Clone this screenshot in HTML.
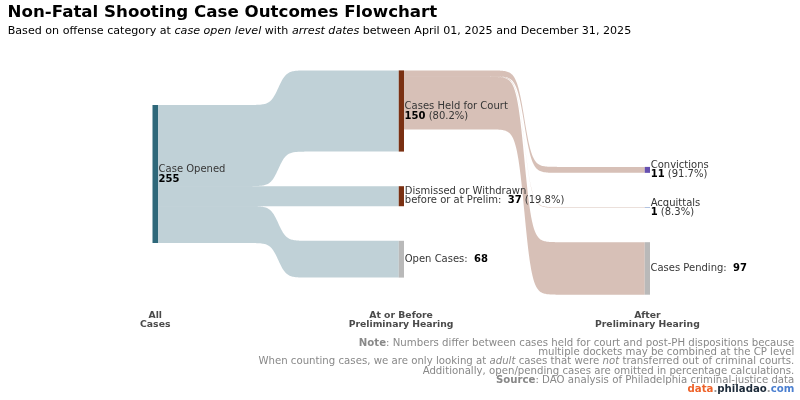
<!DOCTYPE html>
<html lang="en">
<head>
<meta charset="utf-8">
<title>Non-Fatal Shooting Case Outcomes Flowchart</title>
<style>
html,body{margin:0;padding:0;background:#fff;}
body{width:800px;height:400px;overflow:hidden;}
svg{display:block;font-family:"DejaVu Sans","Liberation Sans",sans-serif;}
.title{font-size:16.67px;font-weight:bold;fill:#000;}
.sub{font-size:11.11px;fill:#000;}
.lbl{font-size:10.0px;fill:#363636;white-space:pre;}
.col{font-size:9.28px;font-weight:bold;fill:#4a4a4a;text-anchor:middle;}
.note{font-size:10.18px;fill:#888;text-anchor:end;}
.b{font-weight:bold;}
.i{font-style:italic;}
.lbl .b{fill:#000;}
</style>
</head>
<body>
<svg width="800" height="400" viewBox="0 0 800 400">
<rect width="800" height="400" fill="#fff"/>
<path d="M158.00,105.00 L233.38,105.00 L234.12,105.00 L234.88,105.00 L235.62,105.00 L236.38,105.00 L237.12,105.00 L237.88,105.00 L238.62,105.00 L239.38,105.00 L240.12,105.00 L240.88,105.00 L241.62,105.00 L242.38,105.00 L243.12,105.00 L243.88,104.99 L244.62,104.99 L245.38,104.99 L246.12,104.99 L246.88,104.99 L247.62,104.99 L248.38,104.98 L249.12,104.98 L249.88,104.97 L250.62,104.97 L251.38,104.96 L252.12,104.95 L252.88,104.94 L253.62,104.93 L254.38,104.92 L255.12,104.90 L255.88,104.88 L256.62,104.86 L257.38,104.83 L258.12,104.79 L258.88,104.75 L259.62,104.70 L260.38,104.63 L261.12,104.56 L261.88,104.47 L262.62,104.36 L263.38,104.23 L264.12,104.07 L264.88,103.89 L265.62,103.66 L266.38,103.40 L267.12,103.08 L267.88,102.71 L268.62,102.27 L269.38,101.75 L270.12,101.15 L270.88,100.46 L271.62,99.66 L272.38,98.75 L273.12,97.72 L273.88,96.58 L274.62,95.32 L275.38,93.94 L276.12,92.48 L276.88,90.93 L277.62,89.33 L278.38,87.70 L279.12,86.07 L279.88,84.47 L280.62,82.92 L281.38,81.46 L282.12,80.08 L282.88,78.82 L283.62,77.68 L284.38,76.65 L285.12,75.74 L285.88,74.94 L286.62,74.25 L287.38,73.65 L288.12,73.13 L288.88,72.69 L289.62,72.32 L290.38,72.00 L291.12,71.74 L291.88,71.51 L292.62,71.33 L293.38,71.17 L294.12,71.04 L294.88,70.93 L295.62,70.84 L296.38,70.77 L297.12,70.70 L297.88,70.65 L298.62,70.61 L299.38,70.57 L300.12,70.54 L300.88,70.52 L301.62,70.50 L302.38,70.48 L303.12,70.47 L303.88,70.46 L304.62,70.45 L305.38,70.44 L306.12,70.43 L306.88,70.43 L307.62,70.42 L308.38,70.42 L309.12,70.41 L309.88,70.41 L310.62,70.41 L311.38,70.41 L312.12,70.41 L312.88,70.41 L313.62,70.40 L314.38,70.40 L315.12,70.40 L315.88,70.40 L316.62,70.40 L317.38,70.40 L318.12,70.40 L318.88,70.40 L319.62,70.40 L320.38,70.40 L321.12,70.40 L321.88,70.40 L322.62,70.40 L323.38,70.40 L398.75,70.40 L398.75,151.58 L323.38,151.58 L322.62,151.58 L321.88,151.58 L321.12,151.58 L320.38,151.58 L319.62,151.58 L318.88,151.58 L318.12,151.58 L317.38,151.58 L316.62,151.58 L315.88,151.58 L315.12,151.58 L314.38,151.58 L313.62,151.58 L312.88,151.58 L312.12,151.58 L311.38,151.58 L310.62,151.59 L309.88,151.59 L309.12,151.59 L308.38,151.59 L307.62,151.60 L306.88,151.60 L306.12,151.61 L305.38,151.61 L304.62,151.62 L303.88,151.63 L303.12,151.64 L302.38,151.66 L301.62,151.67 L300.88,151.69 L300.12,151.72 L299.38,151.75 L298.62,151.79 L297.88,151.83 L297.12,151.88 L296.38,151.94 L295.62,152.02 L294.88,152.11 L294.12,152.22 L293.38,152.35 L292.62,152.50 L291.88,152.69 L291.12,152.91 L290.38,153.18 L289.62,153.50 L288.88,153.87 L288.12,154.31 L287.38,154.82 L286.62,155.42 L285.88,156.12 L285.12,156.92 L284.38,157.83 L283.62,158.85 L282.88,160.00 L282.12,161.26 L281.38,162.63 L280.62,164.10 L279.88,165.65 L279.12,167.25 L278.38,168.88 L277.62,170.51 L276.88,172.11 L276.12,173.65 L275.38,175.12 L274.62,176.49 L273.88,177.75 L273.12,178.90 L272.38,179.93 L271.62,180.84 L270.88,181.64 L270.12,182.33 L269.38,182.93 L268.62,183.45 L267.88,183.89 L267.12,184.26 L266.38,184.57 L265.62,184.84 L264.88,185.06 L264.12,185.25 L263.38,185.40 L262.62,185.54 L261.88,185.64 L261.12,185.73 L260.38,185.81 L259.62,185.87 L258.88,185.92 L258.12,185.97 L257.38,186.00 L256.62,186.03 L255.88,186.06 L255.12,186.08 L254.38,186.10 L253.62,186.11 L252.88,186.12 L252.12,186.13 L251.38,186.14 L250.62,186.15 L249.88,186.15 L249.12,186.16 L248.38,186.16 L247.62,186.16 L246.88,186.16 L246.12,186.17 L245.38,186.17 L244.62,186.17 L243.88,186.17 L243.12,186.17 L242.38,186.17 L241.62,186.17 L240.88,186.17 L240.12,186.17 L239.38,186.18 L238.62,186.18 L237.88,186.18 L237.12,186.18 L236.38,186.18 L235.62,186.18 L234.88,186.18 L234.12,186.18 L233.38,186.18 L158.00,186.18Z" fill="#2e687a" fill-opacity="0.3"/>
<path d="M158.00,186.18 L233.38,186.18 L234.12,186.18 L234.88,186.18 L235.62,186.18 L236.38,186.18 L237.12,186.18 L237.88,186.18 L238.62,186.18 L239.38,186.18 L240.12,186.18 L240.88,186.18 L241.62,186.18 L242.38,186.18 L243.12,186.18 L243.88,186.18 L244.62,186.18 L245.38,186.18 L246.12,186.18 L246.88,186.18 L247.62,186.18 L248.38,186.18 L249.12,186.18 L249.88,186.18 L250.62,186.18 L251.38,186.18 L252.12,186.18 L252.88,186.18 L253.62,186.18 L254.38,186.18 L255.12,186.18 L255.88,186.18 L256.62,186.18 L257.38,186.18 L258.12,186.18 L258.88,186.18 L259.62,186.18 L260.38,186.18 L261.12,186.18 L261.88,186.18 L262.62,186.18 L263.38,186.18 L264.12,186.18 L264.88,186.18 L265.62,186.18 L266.38,186.18 L267.12,186.18 L267.88,186.18 L268.62,186.18 L269.38,186.18 L270.12,186.18 L270.88,186.18 L271.62,186.18 L272.38,186.18 L273.12,186.18 L273.88,186.18 L274.62,186.18 L275.38,186.18 L276.12,186.18 L276.88,186.19 L277.62,186.19 L278.38,186.19 L279.12,186.19 L279.88,186.19 L280.62,186.19 L281.38,186.19 L282.12,186.19 L282.88,186.19 L283.62,186.20 L284.38,186.20 L285.12,186.20 L285.88,186.20 L286.62,186.20 L287.38,186.20 L288.12,186.20 L288.88,186.20 L289.62,186.20 L290.38,186.20 L291.12,186.20 L291.88,186.20 L292.62,186.20 L293.38,186.20 L294.12,186.20 L294.88,186.20 L295.62,186.20 L296.38,186.20 L297.12,186.20 L297.88,186.20 L298.62,186.20 L299.38,186.20 L300.12,186.20 L300.88,186.20 L301.62,186.20 L302.38,186.20 L303.12,186.20 L303.88,186.20 L304.62,186.20 L305.38,186.20 L306.12,186.20 L306.88,186.20 L307.62,186.20 L308.38,186.20 L309.12,186.20 L309.88,186.20 L310.62,186.20 L311.38,186.20 L312.12,186.20 L312.88,186.20 L313.62,186.20 L314.38,186.20 L315.12,186.20 L315.88,186.20 L316.62,186.20 L317.38,186.20 L318.12,186.20 L318.88,186.20 L319.62,186.20 L320.38,186.20 L321.12,186.20 L321.88,186.20 L322.62,186.20 L323.38,186.20 L398.75,186.20 L398.75,206.22 L323.38,206.22 L322.62,206.22 L321.88,206.22 L321.12,206.22 L320.38,206.22 L319.62,206.22 L318.88,206.22 L318.12,206.22 L317.38,206.22 L316.62,206.22 L315.88,206.22 L315.12,206.22 L314.38,206.22 L313.62,206.22 L312.88,206.22 L312.12,206.22 L311.38,206.22 L310.62,206.22 L309.88,206.22 L309.12,206.22 L308.38,206.22 L307.62,206.22 L306.88,206.22 L306.12,206.22 L305.38,206.22 L304.62,206.22 L303.88,206.22 L303.12,206.22 L302.38,206.22 L301.62,206.22 L300.88,206.22 L300.12,206.22 L299.38,206.22 L298.62,206.22 L297.88,206.22 L297.12,206.22 L296.38,206.22 L295.62,206.22 L294.88,206.22 L294.12,206.22 L293.38,206.22 L292.62,206.22 L291.88,206.22 L291.12,206.22 L290.38,206.22 L289.62,206.22 L288.88,206.22 L288.12,206.22 L287.38,206.22 L286.62,206.22 L285.88,206.22 L285.12,206.22 L284.38,206.22 L283.62,206.22 L282.88,206.22 L282.12,206.22 L281.38,206.22 L280.62,206.22 L279.88,206.21 L279.12,206.21 L278.38,206.21 L277.62,206.21 L276.88,206.21 L276.12,206.21 L275.38,206.21 L274.62,206.21 L273.88,206.21 L273.12,206.20 L272.38,206.20 L271.62,206.20 L270.88,206.20 L270.12,206.20 L269.38,206.20 L268.62,206.20 L267.88,206.20 L267.12,206.20 L266.38,206.20 L265.62,206.20 L264.88,206.20 L264.12,206.20 L263.38,206.20 L262.62,206.20 L261.88,206.20 L261.12,206.20 L260.38,206.20 L259.62,206.20 L258.88,206.20 L258.12,206.20 L257.38,206.20 L256.62,206.20 L255.88,206.20 L255.12,206.20 L254.38,206.20 L253.62,206.20 L252.88,206.20 L252.12,206.20 L251.38,206.20 L250.62,206.20 L249.88,206.20 L249.12,206.20 L248.38,206.20 L247.62,206.20 L246.88,206.20 L246.12,206.20 L245.38,206.20 L244.62,206.20 L243.88,206.20 L243.12,206.20 L242.38,206.20 L241.62,206.20 L240.88,206.20 L240.12,206.20 L239.38,206.20 L238.62,206.20 L237.88,206.20 L237.12,206.20 L236.38,206.20 L235.62,206.20 L234.88,206.20 L234.12,206.20 L233.38,206.20 L158.00,206.20Z" fill="#2e687a" fill-opacity="0.3"/>
<path d="M158.00,206.20 L233.38,206.20 L234.12,206.20 L234.88,206.20 L235.62,206.20 L236.38,206.20 L237.12,206.20 L237.88,206.20 L238.62,206.20 L239.38,206.20 L240.12,206.20 L240.88,206.20 L241.62,206.20 L242.38,206.20 L243.12,206.20 L243.88,206.21 L244.62,206.21 L245.38,206.21 L246.12,206.21 L246.88,206.21 L247.62,206.21 L248.38,206.22 L249.12,206.22 L249.88,206.23 L250.62,206.23 L251.38,206.24 L252.12,206.25 L252.88,206.26 L253.62,206.27 L254.38,206.28 L255.12,206.30 L255.88,206.32 L256.62,206.34 L257.38,206.37 L258.12,206.41 L258.88,206.45 L259.62,206.50 L260.38,206.57 L261.12,206.64 L261.88,206.73 L262.62,206.84 L263.38,206.97 L264.12,207.13 L264.88,207.31 L265.62,207.54 L266.38,207.80 L267.12,208.12 L267.88,208.49 L268.62,208.93 L269.38,209.45 L270.12,210.05 L270.88,210.74 L271.62,211.54 L272.38,212.45 L273.12,213.48 L273.88,214.62 L274.62,215.88 L275.38,217.26 L276.12,218.72 L276.88,220.27 L277.62,221.87 L278.38,223.50 L279.12,225.13 L279.88,226.73 L280.62,228.28 L281.38,229.74 L282.12,231.12 L282.88,232.38 L283.62,233.52 L284.38,234.55 L285.12,235.46 L285.88,236.26 L286.62,236.95 L287.38,237.55 L288.12,238.07 L288.88,238.51 L289.62,238.88 L290.38,239.20 L291.12,239.46 L291.88,239.69 L292.62,239.87 L293.38,240.03 L294.12,240.16 L294.88,240.27 L295.62,240.36 L296.38,240.43 L297.12,240.50 L297.88,240.55 L298.62,240.59 L299.38,240.63 L300.12,240.66 L300.88,240.68 L301.62,240.70 L302.38,240.72 L303.12,240.73 L303.88,240.74 L304.62,240.75 L305.38,240.76 L306.12,240.77 L306.88,240.77 L307.62,240.78 L308.38,240.78 L309.12,240.79 L309.88,240.79 L310.62,240.79 L311.38,240.79 L312.12,240.79 L312.88,240.79 L313.62,240.80 L314.38,240.80 L315.12,240.80 L315.88,240.80 L316.62,240.80 L317.38,240.80 L318.12,240.80 L318.88,240.80 L319.62,240.80 L320.38,240.80 L321.12,240.80 L321.88,240.80 L322.62,240.80 L323.38,240.80 L398.75,240.80 L398.75,277.60 L323.38,277.60 L322.62,277.60 L321.88,277.60 L321.12,277.60 L320.38,277.60 L319.62,277.60 L318.88,277.60 L318.12,277.60 L317.38,277.60 L316.62,277.60 L315.88,277.60 L315.12,277.60 L314.38,277.60 L313.62,277.60 L312.88,277.59 L312.12,277.59 L311.38,277.59 L310.62,277.59 L309.88,277.59 L309.12,277.59 L308.38,277.58 L307.62,277.58 L306.88,277.57 L306.12,277.57 L305.38,277.56 L304.62,277.55 L303.88,277.54 L303.12,277.53 L302.38,277.52 L301.62,277.50 L300.88,277.48 L300.12,277.46 L299.38,277.43 L298.62,277.39 L297.88,277.35 L297.12,277.30 L296.38,277.23 L295.62,277.16 L294.88,277.07 L294.12,276.96 L293.38,276.83 L292.62,276.67 L291.88,276.49 L291.12,276.26 L290.38,276.00 L289.62,275.68 L288.88,275.31 L288.12,274.87 L287.38,274.35 L286.62,273.75 L285.88,273.06 L285.12,272.26 L284.38,271.35 L283.62,270.32 L282.88,269.18 L282.12,267.92 L281.38,266.54 L280.62,265.08 L279.88,263.53 L279.12,261.93 L278.38,260.30 L277.62,258.67 L276.88,257.07 L276.12,255.52 L275.38,254.06 L274.62,252.68 L273.88,251.42 L273.12,250.28 L272.38,249.25 L271.62,248.34 L270.88,247.54 L270.12,246.85 L269.38,246.25 L268.62,245.73 L267.88,245.29 L267.12,244.92 L266.38,244.60 L265.62,244.34 L264.88,244.11 L264.12,243.93 L263.38,243.77 L262.62,243.64 L261.88,243.53 L261.12,243.44 L260.38,243.37 L259.62,243.30 L258.88,243.25 L258.12,243.21 L257.38,243.17 L256.62,243.14 L255.88,243.12 L255.12,243.10 L254.38,243.08 L253.62,243.07 L252.88,243.06 L252.12,243.05 L251.38,243.04 L250.62,243.03 L249.88,243.03 L249.12,243.02 L248.38,243.02 L247.62,243.01 L246.88,243.01 L246.12,243.01 L245.38,243.01 L244.62,243.01 L243.88,243.01 L243.12,243.00 L242.38,243.00 L241.62,243.00 L240.88,243.00 L240.12,243.00 L239.38,243.00 L238.62,243.00 L237.88,243.00 L237.12,243.00 L236.38,243.00 L235.62,243.00 L234.88,243.00 L234.12,243.00 L233.38,243.00 L158.00,243.00Z" fill="#2e687a" fill-opacity="0.3"/>
<path d="M404.00,70.40 L479.38,70.40 L480.12,70.40 L480.88,70.40 L481.62,70.40 L482.38,70.40 L483.12,70.40 L483.88,70.40 L484.62,70.40 L485.38,70.40 L486.12,70.41 L486.88,70.41 L487.62,70.41 L488.38,70.41 L489.12,70.41 L489.88,70.42 L490.62,70.42 L491.38,70.42 L492.12,70.43 L492.88,70.43 L493.62,70.44 L494.38,70.45 L495.12,70.46 L495.88,70.47 L496.62,70.49 L497.38,70.51 L498.12,70.53 L498.88,70.55 L499.62,70.59 L500.38,70.63 L501.12,70.67 L501.88,70.73 L502.62,70.80 L503.38,70.88 L504.12,70.98 L504.88,71.10 L505.62,71.25 L506.38,71.42 L507.12,71.63 L507.88,71.88 L508.62,72.19 L509.38,72.55 L510.12,72.99 L510.88,73.51 L511.62,74.13 L512.38,74.87 L513.12,75.75 L513.88,76.79 L514.62,78.02 L515.38,79.45 L516.12,81.13 L516.88,83.06 L517.62,85.29 L518.38,87.83 L519.12,90.70 L519.88,93.89 L520.62,97.41 L521.38,101.23 L522.12,105.33 L522.88,109.64 L523.62,114.10 L524.38,118.65 L525.12,123.20 L525.88,127.66 L526.62,131.97 L527.38,136.07 L528.12,139.89 L528.88,143.41 L529.62,146.60 L530.38,149.47 L531.12,152.01 L531.88,154.24 L532.62,156.17 L533.38,157.85 L534.12,159.28 L534.88,160.51 L535.62,161.55 L536.38,162.43 L537.12,163.17 L537.88,163.79 L538.62,164.31 L539.38,164.75 L540.12,165.11 L540.88,165.42 L541.62,165.67 L542.38,165.88 L543.12,166.05 L543.88,166.20 L544.62,166.32 L545.38,166.42 L546.12,166.50 L546.88,166.57 L547.62,166.63 L548.38,166.67 L549.12,166.71 L549.88,166.75 L550.62,166.77 L551.38,166.79 L552.12,166.81 L552.88,166.83 L553.62,166.84 L554.38,166.85 L555.12,166.86 L555.88,166.87 L556.62,166.87 L557.38,166.88 L558.12,166.88 L558.88,166.88 L559.62,166.89 L560.38,166.89 L561.12,166.89 L561.88,166.89 L562.62,166.89 L563.38,166.90 L564.12,166.90 L564.88,166.90 L565.62,166.90 L566.38,166.90 L567.12,166.90 L567.88,166.90 L568.62,166.90 L569.38,166.90 L644.75,166.90 L644.75,172.85 L569.38,172.85 L568.62,172.85 L567.88,172.85 L567.12,172.85 L566.38,172.85 L565.62,172.85 L564.88,172.85 L564.12,172.85 L563.38,172.85 L562.62,172.85 L561.88,172.85 L561.12,172.84 L560.38,172.84 L559.62,172.84 L558.88,172.84 L558.12,172.83 L557.38,172.83 L556.62,172.83 L555.88,172.82 L555.12,172.81 L554.38,172.80 L553.62,172.79 L552.88,172.78 L552.12,172.77 L551.38,172.75 L550.62,172.72 L549.88,172.70 L549.12,172.67 L548.38,172.63 L547.62,172.58 L546.88,172.52 L546.12,172.45 L545.38,172.37 L544.62,172.27 L543.88,172.15 L543.12,172.01 L542.38,171.83 L541.62,171.62 L540.88,171.37 L540.12,171.06 L539.38,170.70 L538.62,170.26 L537.88,169.74 L537.12,169.12 L536.38,168.38 L535.62,167.50 L534.88,166.46 L534.12,165.24 L533.38,163.80 L532.62,162.13 L531.88,160.19 L531.12,157.96 L530.38,155.42 L529.62,152.56 L528.88,149.36 L528.12,145.84 L527.38,142.02 L526.62,137.93 L525.88,133.62 L525.12,129.15 L524.38,124.60 L523.62,120.06 L522.88,115.59 L522.12,111.28 L521.38,107.19 L520.62,103.36 L519.88,99.84 L519.12,96.65 L518.38,93.78 L517.62,91.25 L516.88,89.02 L516.12,87.08 L515.38,85.40 L514.62,83.97 L513.88,82.74 L513.12,81.70 L512.38,80.82 L511.62,80.08 L510.88,79.46 L510.12,78.94 L509.38,78.51 L508.62,78.14 L507.88,77.84 L507.12,77.59 L506.38,77.37 L505.62,77.20 L504.88,77.06 L504.12,76.93 L503.38,76.83 L502.62,76.75 L501.88,76.68 L501.12,76.63 L500.38,76.58 L499.62,76.54 L498.88,76.51 L498.12,76.48 L497.38,76.46 L496.62,76.44 L495.88,76.43 L495.12,76.41 L494.38,76.40 L493.62,76.39 L492.88,76.39 L492.12,76.38 L491.38,76.38 L490.62,76.37 L489.88,76.37 L489.12,76.37 L488.38,76.36 L487.62,76.36 L486.88,76.36 L486.12,76.36 L485.38,76.36 L484.62,76.36 L483.88,76.36 L483.12,76.35 L482.38,76.35 L481.62,76.35 L480.88,76.35 L480.12,76.35 L479.38,76.35 L404.00,76.35Z" fill="#7a3012" fill-opacity="0.3"/>
<path d="M404.00,76.35 L479.38,76.35 L480.12,76.35 L480.88,76.35 L481.62,76.35 L482.38,76.35 L483.12,76.36 L483.88,76.36 L484.62,76.36 L485.38,76.36 L486.12,76.36 L486.88,76.36 L487.62,76.36 L488.38,76.37 L489.12,76.37 L489.88,76.37 L490.62,76.38 L491.38,76.38 L492.12,76.39 L492.88,76.40 L493.62,76.41 L494.38,76.42 L495.12,76.43 L495.88,76.45 L496.62,76.47 L497.38,76.50 L498.12,76.53 L498.88,76.56 L499.62,76.61 L500.38,76.66 L501.12,76.72 L501.88,76.80 L502.62,76.89 L503.38,77.01 L504.12,77.14 L504.88,77.31 L505.62,77.50 L506.38,77.74 L507.12,78.02 L507.88,78.37 L508.62,78.78 L509.38,79.27 L510.12,79.86 L510.88,80.57 L511.62,81.42 L512.38,82.42 L513.12,83.61 L513.88,85.02 L514.62,86.69 L515.38,88.64 L516.12,90.91 L516.88,93.54 L517.62,96.56 L518.38,100.01 L519.12,103.89 L519.88,108.23 L520.62,113.00 L521.38,118.19 L522.12,123.75 L522.88,129.60 L523.62,135.66 L524.38,141.83 L525.12,148.00 L525.88,154.06 L526.62,159.91 L527.38,165.46 L528.12,170.65 L528.88,175.43 L529.62,179.76 L530.38,183.65 L531.12,187.09 L531.88,190.12 L532.62,192.75 L533.38,195.02 L534.12,196.97 L534.88,198.63 L535.62,200.04 L536.38,201.23 L537.12,202.24 L537.88,203.08 L538.62,203.79 L539.38,204.38 L540.12,204.87 L540.88,205.29 L541.62,205.63 L542.38,205.91 L543.12,206.15 L543.88,206.35 L544.62,206.51 L545.38,206.65 L546.12,206.76 L546.88,206.85 L547.62,206.93 L548.38,206.99 L549.12,207.05 L549.88,207.09 L550.62,207.13 L551.38,207.16 L552.12,207.18 L552.88,207.20 L553.62,207.22 L554.38,207.23 L555.12,207.25 L555.88,207.25 L556.62,207.26 L557.38,207.27 L558.12,207.28 L558.88,207.28 L559.62,207.28 L560.38,207.29 L561.12,207.29 L561.88,207.29 L562.62,207.29 L563.38,207.29 L564.12,207.30 L564.88,207.30 L565.62,207.30 L566.38,207.30 L567.12,207.30 L567.88,207.30 L568.62,207.30 L569.38,207.30 L644.75,207.30 L644.75,207.84 L569.38,207.84 L568.62,207.84 L567.88,207.84 L567.12,207.84 L566.38,207.84 L565.62,207.84 L564.88,207.84 L564.12,207.84 L563.38,207.84 L562.62,207.83 L561.88,207.83 L561.12,207.83 L560.38,207.83 L559.62,207.82 L558.88,207.82 L558.12,207.82 L557.38,207.81 L556.62,207.80 L555.88,207.80 L555.12,207.79 L554.38,207.77 L553.62,207.76 L552.88,207.74 L552.12,207.72 L551.38,207.70 L550.62,207.67 L549.88,207.63 L549.12,207.59 L548.38,207.53 L547.62,207.47 L546.88,207.39 L546.12,207.30 L545.38,207.19 L544.62,207.05 L543.88,206.89 L543.12,206.69 L542.38,206.45 L541.62,206.17 L540.88,205.83 L540.12,205.41 L539.38,204.92 L538.62,204.33 L537.88,203.62 L537.12,202.78 L536.38,201.77 L535.62,200.58 L534.88,199.17 L534.12,197.51 L533.38,195.56 L532.62,193.29 L531.88,190.66 L531.12,187.63 L530.38,184.19 L529.62,180.30 L528.88,175.97 L528.12,171.19 L527.38,166.00 L526.62,160.45 L525.88,154.60 L525.12,148.54 L524.38,142.37 L523.62,136.20 L522.88,130.14 L522.12,124.29 L521.38,118.73 L520.62,113.54 L519.88,108.77 L519.12,104.43 L518.38,100.55 L517.62,97.10 L516.88,94.08 L516.12,91.45 L515.38,89.18 L514.62,87.23 L513.88,85.57 L513.12,84.16 L512.38,82.96 L511.62,81.96 L510.88,81.11 L510.12,80.41 L509.38,79.81 L508.62,79.32 L507.88,78.91 L507.12,78.57 L506.38,78.28 L505.62,78.04 L504.88,77.85 L504.12,77.68 L503.38,77.55 L502.62,77.44 L501.88,77.34 L501.12,77.27 L500.38,77.20 L499.62,77.15 L498.88,77.10 L498.12,77.07 L497.38,77.04 L496.62,77.01 L495.88,76.99 L495.12,76.97 L494.38,76.96 L493.62,76.95 L492.88,76.94 L492.12,76.93 L491.38,76.92 L490.62,76.92 L489.88,76.91 L489.12,76.91 L488.38,76.91 L487.62,76.91 L486.88,76.90 L486.12,76.90 L485.38,76.90 L484.62,76.90 L483.88,76.90 L483.12,76.90 L482.38,76.90 L481.62,76.90 L480.88,76.89 L480.12,76.89 L479.38,76.89 L404.00,76.89Z" fill="#7a3012" fill-opacity="0.3"/>
<path d="M404.00,76.89 L479.38,76.89 L480.12,76.89 L480.88,76.90 L481.62,76.90 L482.38,76.90 L483.12,76.90 L483.88,76.90 L484.62,76.90 L485.38,76.90 L486.12,76.90 L486.88,76.91 L487.62,76.91 L488.38,76.91 L489.12,76.92 L489.88,76.92 L490.62,76.93 L491.38,76.93 L492.12,76.94 L492.88,76.95 L493.62,76.96 L494.38,76.98 L495.12,77.00 L495.88,77.02 L496.62,77.04 L497.38,77.08 L498.12,77.11 L498.88,77.16 L499.62,77.21 L500.38,77.28 L501.12,77.36 L501.88,77.46 L502.62,77.58 L503.38,77.72 L504.12,77.89 L504.88,78.10 L505.62,78.35 L506.38,78.64 L507.12,79.00 L507.88,79.44 L508.62,79.96 L509.38,80.58 L510.12,81.33 L510.88,82.22 L511.62,83.29 L512.38,84.55 L513.12,86.06 L513.88,87.84 L514.62,89.94 L515.38,92.40 L516.12,95.27 L516.88,98.59 L517.62,102.41 L518.38,106.75 L519.12,111.66 L519.88,117.13 L520.62,123.16 L521.38,129.71 L522.12,136.72 L522.88,144.11 L523.62,151.76 L524.38,159.55 L525.12,167.33 L525.88,174.99 L526.62,182.37 L527.38,189.38 L528.12,195.93 L528.88,201.96 L529.62,207.43 L530.38,212.34 L531.12,216.69 L531.88,220.51 L532.62,223.83 L533.38,226.69 L534.12,229.15 L534.88,231.25 L535.62,233.03 L536.38,234.54 L537.12,235.81 L537.88,236.87 L538.62,237.77 L539.38,238.51 L540.12,239.14 L540.88,239.66 L541.62,240.09 L542.38,240.45 L543.12,240.75 L543.88,241.00 L544.62,241.20 L545.38,241.37 L546.12,241.52 L546.88,241.63 L547.62,241.73 L548.38,241.81 L549.12,241.88 L549.88,241.93 L550.62,241.98 L551.38,242.02 L552.12,242.05 L552.88,242.08 L553.62,242.10 L554.38,242.12 L555.12,242.13 L555.88,242.14 L556.62,242.15 L557.38,242.16 L558.12,242.17 L558.88,242.17 L559.62,242.18 L560.38,242.18 L561.12,242.19 L561.88,242.19 L562.62,242.19 L563.38,242.19 L564.12,242.19 L564.88,242.20 L565.62,242.20 L566.38,242.20 L567.12,242.20 L567.88,242.20 L568.62,242.20 L569.38,242.20 L644.75,242.20 L644.75,294.69 L569.38,294.69 L568.62,294.69 L567.88,294.69 L567.12,294.69 L566.38,294.69 L565.62,294.69 L564.88,294.69 L564.12,294.69 L563.38,294.69 L562.62,294.69 L561.88,294.68 L561.12,294.68 L560.38,294.68 L559.62,294.67 L558.88,294.67 L558.12,294.66 L557.38,294.66 L556.62,294.65 L555.88,294.64 L555.12,294.62 L554.38,294.61 L553.62,294.59 L552.88,294.57 L552.12,294.54 L551.38,294.51 L550.62,294.47 L549.88,294.43 L549.12,294.37 L548.38,294.31 L547.62,294.23 L546.88,294.13 L546.12,294.01 L545.38,293.87 L544.62,293.70 L543.88,293.49 L543.12,293.24 L542.38,292.94 L541.62,292.58 L540.88,292.15 L540.12,291.63 L539.38,291.01 L538.62,290.26 L537.88,289.37 L537.12,288.30 L536.38,287.03 L535.62,285.53 L534.88,283.75 L534.12,281.65 L533.38,279.19 L532.62,276.32 L531.88,273.00 L531.12,269.18 L530.38,264.83 L529.62,259.93 L528.88,254.46 L528.12,248.43 L527.38,241.88 L526.62,234.87 L525.88,227.48 L525.12,219.83 L524.38,212.04 L523.62,204.25 L522.88,196.60 L522.12,189.22 L521.38,182.21 L520.62,175.66 L519.88,169.63 L519.12,164.15 L518.38,159.25 L517.62,154.90 L516.88,151.08 L516.12,147.76 L515.38,144.89 L514.62,142.43 L513.88,140.34 L513.12,138.55 L512.38,137.05 L511.62,135.78 L510.88,134.71 L510.12,133.82 L509.38,133.07 L508.62,132.45 L507.88,131.93 L507.12,131.50 L506.38,131.14 L505.62,130.84 L504.88,130.59 L504.12,130.39 L503.38,130.21 L502.62,130.07 L501.88,129.95 L501.12,129.86 L500.38,129.78 L499.62,129.71 L498.88,129.65 L498.12,129.61 L497.38,129.57 L496.62,129.54 L495.88,129.51 L495.12,129.49 L494.38,129.47 L493.62,129.46 L492.88,129.45 L492.12,129.44 L491.38,129.43 L490.62,129.42 L489.88,129.41 L489.12,129.41 L488.38,129.41 L487.62,129.40 L486.88,129.40 L486.12,129.40 L485.38,129.40 L484.62,129.39 L483.88,129.39 L483.12,129.39 L482.38,129.39 L481.62,129.39 L480.88,129.39 L480.12,129.39 L479.38,129.39 L404.00,129.39Z" fill="#7a3012" fill-opacity="0.3"/>
<rect x="152.5" y="105.00" width="5.5" height="138.00" fill="#2e687a"/>
<rect x="398.75" y="70.40" width="5.25" height="81.18" fill="#7a3012"/>
<rect x="398.75" y="186.20" width="5.25" height="20.02" fill="#7a3012"/>
<rect x="398.75" y="240.80" width="5.25" height="36.80" fill="#b9b9b9"/>
<rect x="644.75" y="166.90" width="5.25" height="5.95" fill="#6650b0"/>
<rect x="644.75" y="207.30" width="5.25" height="0.54" fill="#6f8fc7"/>
<rect x="644.75" y="242.20" width="5.25" height="52.49" fill="#b9b9b9"/>
<text x="7.6" y="16.9" class="title">Non-Fatal Shooting Case Outcomes Flowchart</text>
<text x="7.7" y="33.75" class="sub">Based on offense category at <tspan class="i">case open level</tspan> with <tspan class="i">arrest dates</tspan> between April 01, 2025 and December 31, 2025</text>
<text x="158.6" y="172.2" class="lbl">Case Opened</text>
<text x="158.6" y="181.5" class="lbl"><tspan class="b">255</tspan></text>
<text x="404.6" y="109.15" class="lbl">Cases Held for Court</text>
<text x="404.6" y="118.55000000000001" class="lbl"><tspan class="b">150</tspan> (80.2%)</text>
<text x="404.8" y="194.1" class="lbl">Dismissed or Withdrawn</text>
<text x="404.8" y="203.45" class="lbl">before or at Prelim:  <tspan class="b">37</tspan> (19.8%)</text>
<text x="404.75" y="261.9" class="lbl">Open Cases:  <tspan class="b">68</tspan></text>
<text x="650.7" y="167.5" class="lbl">Convictions</text>
<text x="650.7" y="177.15" class="lbl"><tspan class="b">11</tspan> (91.7%)</text>
<text x="650.7" y="206.1" class="lbl">Acquittals</text>
<text x="650.7" y="214.79999999999998" class="lbl"><tspan class="b">1</tspan> (8.3%)</text>
<text x="650.5" y="271.0" class="lbl">Cases Pending:  <tspan class="b">97</tspan></text>
<text x="155.25" y="317.9" class="col">All</text>
<text x="155.25" y="327.2" class="col">Cases</text>
<text x="401.1" y="317.9" class="col">At or Before</text>
<text x="401.1" y="327.2" class="col">Preliminary Hearing</text>
<text x="647.4" y="317.9" class="col">After</text>
<text x="647.4" y="327.2" class="col">Preliminary Hearing</text>
<text x="794.3" y="345.85" class="note"><tspan class="b">Note</tspan>: Numbers differ between cases held for court and post-PH dispositions because</text>
<text x="794.3" y="355.05" class="note">multiple dockets may be combined at the CP level</text>
<text x="794.3" y="364.2" class="note">When counting cases, we are only looking at <tspan class="i">adult</tspan> cases that were <tspan class="i">not</tspan> transferred out of criminal courts.</text>
<text x="794.3" y="373.6" class="note">Additionally, open/pending cases are omitted in percentage calculations.</text>
<text x="794.3" y="382.8" class="note"><tspan class="b">Source</tspan>: DAO analysis of Philadelphia criminal-justice data</text>
<text x="794.3" y="392.45" class="note b"><tspan fill="#ee632b">data</tspan><tspan fill="#9a9a9a">.</tspan><tspan fill="#1d2b3a">philadao</tspan><tspan fill="#9a9a9a">.</tspan><tspan fill="#4a7fd0">com</tspan></text>
</svg>
</body>
</html>
